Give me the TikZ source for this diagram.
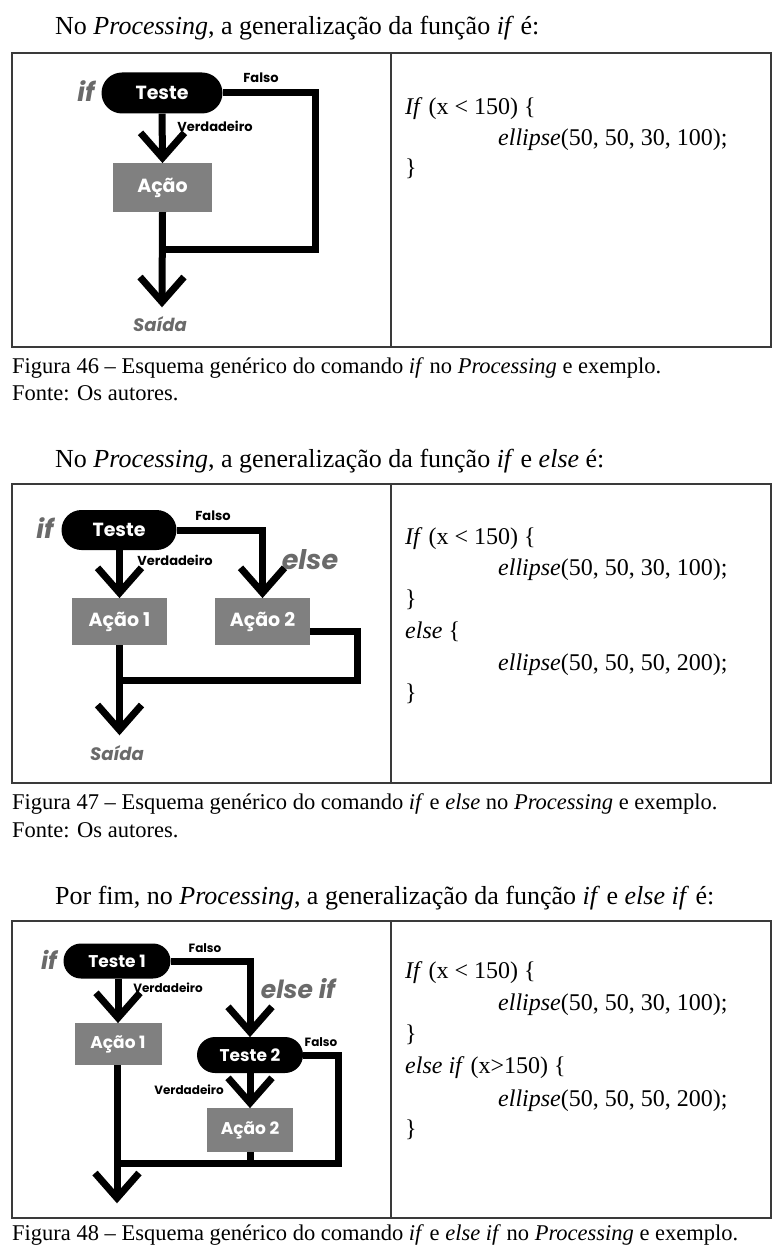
\documentclass[tikz,border=0pt]{standalone}
\usepackage{fontspec}
\setmainfont{Liberation Serif}
\newfontfamily\dfont{Poppins}
\usetikzlibrary{shapes.misc}
\definecolor{boxgray}{HTML}{808080}
\definecolor{txtgray}{HTML}{6A6A6A}
\definecolor{frame}{HTML}{3A3A3A}
\newcommand\chevron[1]{\draw[chv] ([xshift=-22pt,yshift=25pt]#1) -- (#1) -- ([xshift=22pt,yshift=25pt]#1);}
\begin{document}
\begin{tikzpicture}[x=1pt,y=-1pt,
 frm/.style={draw=frame,line width=1.5pt},
 pill/.style={rounded rectangle,fill=black,text=white,inner sep=0pt,font=\dfont\bfseries\fontsize{19}{19}\selectfont},
 act/.style={rectangle,fill=boxgray,text=white,inner sep=0pt,font=\dfont\bfseries\fontsize{19}{19}\selectfont},
 flow/.style={line width=7pt,line join=miter},
 chv/.style={line width=7pt,line join=miter,line cap=butt},
 lbl/.style={inner sep=0pt,font=\dfont\bfseries\fontsize{13}{13}\selectfont},
 kw/.style={inner sep=0pt,text=txtgray,font=\dfont\bfseries\itshape\fontsize{26}{26}\selectfont},
 exitlbl/.style={inner sep=0pt,text=txtgray,font=\dfont\bfseries\itshape\fontsize{18}{18}\selectfont},
 bodytxt/.style={anchor=base west,inner sep=0pt,font=\fontsize{26}{26}\selectfont},
 captxt/.style={anchor=base west,inner sep=0pt,font=\fontsize{22.5}{22.5}\selectfont},
 codetxt/.style={anchor=base west,inner sep=0pt,font=\fontsize{24}{24}\selectfont}
]
\useasboundingbox[fill=white] (0,0) rectangle (783,1246);

% ---------- Figure 46 ----------
\node[bodytxt] (h1) at (55,35) {No \textit{Processing}, a generalização da função \textit{if} é:};
\draw[frm] (12,53) rectangle (771,347);
\draw[frm] (391,53) -- (391,347);
\node[kw] (if1) at (86,91) {if};
\node[pill,minimum width=121pt,minimum height=41pt] (t1) at (162,93) {Teste};
\node[lbl] (f1) at (261,78) {Falso};
\node[lbl] (v1) at (215,126) {Verdadeiro};
\node[act,minimum width=99pt,minimum height=49pt] (a1) at (162.5,187.5) {Ação};
\coordinate (r1) at (315,250);
\coordinate (o1) at (162,302);
\coordinate (va1) at ([yshift=5pt]a1.north);
\node[exitlbl] (s1) at (160,324) {Saída};
\draw[flow] (t1.south) -- (va1);
\chevron{va1}
\draw[flow] (t1.east) -| (r1) -- (a1.south |- r1);
\draw[flow] (a1.south) -- (o1);
\chevron{o1}
\node[codetxt] (c1a) at (405,115) {\textit{If} (x < 150) \{};
\node[codetxt] (c1b) at (498,146) {\textit{ellipse}(50, 50, 30, 100);};
\node[codetxt] (c1c) at (405,176) {\}};
\node[captxt] (k1) at (12,373) {Figura 46 – Esquema genérico do comando \textit{if} no \textit{Processing} e exemplo.};
\node[captxt] (k1b) at (12,400) {Fonte: Os autores.};

% ---------- Figure 47 ----------
\node[bodytxt] (h2) at (55,467) {No \textit{Processing}, a generalização da função \textit{if} e \textit{else} é:};
\draw[frm] (12,484) rectangle (771,783);
\draw[frm] (391,484) -- (391,783);
\node[kw] (if2) at (45,528) {if};
\node[pill,minimum width=115pt,minimum height=40pt] (t2) at (119,530) {Teste};
\node[lbl] (f2) at (213,516) {Falso};
\node[lbl] (v2) at (175,560) {Verdadeiro};
\node[kw,font=\dfont\bfseries\itshape\fontsize{27}{27}\selectfont] (e2) at (310,560) {else};
\node[act,minimum width=95pt,minimum height=47pt] (a21) at (119.5,621.5) {Ação 1};
\node[act,minimum width=95pt,minimum height=47pt] (a22) at (262.5,621.5) {Ação 2};
\coordinate (va21) at ([yshift=5pt]a21.north);
\coordinate (va22) at ([yshift=5pt]a22.north);
\coordinate (ea22) at ([yshift=-9.5pt]a22.east);
\draw[flow] (t2.south -| va21) -- (va21);
\chevron{va21}
\draw[flow] (t2.east) -| (va22);
\chevron{va22}
\coordinate (r2a) at (357,631);
\coordinate (r2b) at (357,680);
\coordinate (o2) at (119.5,730);
\draw[flow] (ea22) -- (r2a) -- (r2b) -- (a21.south |- r2b);
\draw[flow] (a21.south) -- (o2);
\chevron{o2}
\node[exitlbl] (s2) at (117,753) {Saída};
\node[codetxt] (c2a) at (405,544) {\textit{If} (x < 150) \{};
\node[codetxt] (c2b) at (498,575) {\textit{ellipse}(50, 50, 30, 100);};
\node[codetxt] (c2c) at (405,606) {\}};
\node[codetxt] (c2d) at (405,638) {\textit{else} \{};
\node[codetxt] (c2e) at (498,670) {\textit{ellipse}(50, 50, 50, 200);};
\node[codetxt] (c2f) at (405,700) {\}};
\node[captxt] (k2) at (12,809) {Figura 47 – Esquema genérico do comando \textit{if} e \textit{else} no \textit{Processing} e exemplo.};
\node[captxt] (k2b) at (12,837) {Fonte: Os autores.};

% ---------- Figure 48 ----------
\node[bodytxt] (h3) at (55,904) {Por fim, no \textit{Processing}, a generalização da função \textit{if} e \textit{else if} é:};
\draw[frm] (12,921) rectangle (771,1218);
\draw[frm] (391,921) -- (391,1218);
\node[kw,font=\dfont\bfseries\itshape\fontsize{24}{24}\selectfont] (if3) at (49,960) {if};
\node[pill,minimum width=107pt,minimum height=35pt,font=\dfont\bfseries\fontsize{17}{17}\selectfont] (t31) at (117,961) {Teste 1};
\node[lbl,font=\dfont\bfseries\fontsize{12}{12}\selectfont] (f31) at (205,948) {Falso};
\node[lbl,font=\dfont\bfseries\fontsize{12}{12}\selectfont] (v31) at (168,988) {Verdadeiro};
\node[kw,font=\dfont\bfseries\itshape\fontsize{25}{25}\selectfont] (e3) at (298,989) {else if};
\node[act,minimum width=87pt,minimum height=42pt,font=\dfont\bfseries\fontsize{17}{17}\selectfont] (a31) at (118,1044) {Ação 1};
\node[pill,minimum width=106pt,minimum height=36pt,font=\dfont\bfseries\fontsize{17}{17}\selectfont] (t32) at (250,1055) {Teste 2};
\node[lbl,font=\dfont\bfseries\fontsize{12}{12}\selectfont] (f32) at (321,1042) {Falso};
\node[lbl,font=\dfont\bfseries\fontsize{12}{12}\selectfont] (v32) at (189,1090) {Verdadeiro};
\node[act,minimum width=86pt,minimum height=44pt,font=\dfont\bfseries\fontsize{17}{17}\selectfont] (a32) at (250,1130) {Ação 2};
\coordinate (va31) at ([yshift=5pt]a31.north);
\coordinate (vt32) at ([yshift=5pt]t32.north);
\coordinate (va32) at ([yshift=5pt]a32.north);
\draw[flow] (t31.south -| va31) -- (va31);
\chevron{va31}
\draw[flow] (t31.east) -| (vt32);
\chevron{vt32}
\draw[flow] (t32.south) -- (va32);
\chevron{va32}
\coordinate (r3a) at (338,1055);
\coordinate (r3b) at (338,1163);
\coordinate (o3) at (117,1198);
\draw[flow] (t32.east) -- (r3a) -- (r3b) -- (a31.south |- r3b);
\draw[flow] (a32.south) -- (a32.south |- r3b);
\draw[flow] (a31.south -| o3) -- (o3);
\chevron{o3}
\node[codetxt] (c3a) at (405,978) {\textit{If} (x < 150) \{};
\node[codetxt] (c3b) at (498,1010) {\textit{ellipse}(50, 50, 30, 100);};
\node[codetxt] (c3c) at (405,1041) {\}};
\node[codetxt] (c3d) at (405,1073) {\textit{else if} (x>150) \{};
\node[codetxt] (c3e) at (498,1106) {\textit{ellipse}(50, 50, 50, 200);};
\node[codetxt] (c3f) at (405,1136) {\}};
\node[captxt] (k3) at (12,1240) {Figura 48 – Esquema genérico do comando \textit{if} e \textit{else if} no \textit{Processing} e exemplo.};
\end{tikzpicture}
\end{document}
